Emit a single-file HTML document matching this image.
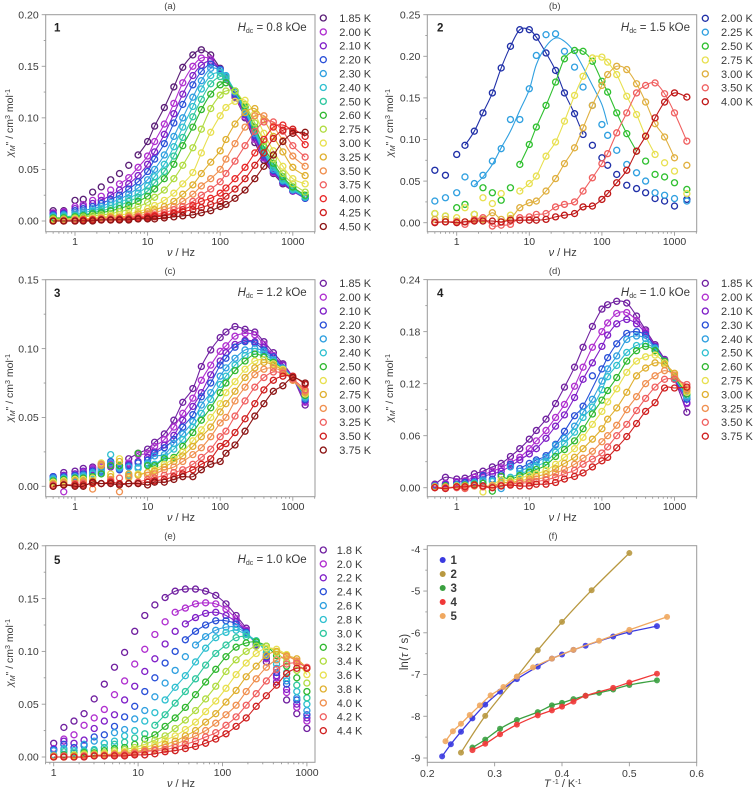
<!DOCTYPE html>
<html lang="en">
<head>
<meta charset="utf-8">
<title>AC susceptibility charts</title>
<style>
html,body{margin:0;padding:0;background:#fff;}
svg{display:block;font-family:"Liberation Sans",sans-serif;fill:#3a3a3a;font-size:10.5px;}
.t{font-size:9.5px;fill:#444;}
.sub{font-size:7px;}
.b{font-weight:bold;font-size:11.5px;fill:#222;}
.f{font-size:11.5px;}
.a{font-size:11px;}
</style>
</head>
<body>
<svg id="chart" xmlns="http://www.w3.org/2000/svg" width="755" height="791" viewBox="0 0 755 791">
<g>
<text class="t" x="170" y="9" text-anchor="middle">(a)</text>
<text class="t" x="554.7" y="9" text-anchor="middle">(b)</text>
<text class="t" x="170" y="274" text-anchor="middle">(c)</text>
<text class="t" x="554.7" y="274" text-anchor="middle">(d)</text>
<text class="t" x="170" y="539" text-anchor="middle">(e)</text>
<text class="t" x="553" y="539" text-anchor="middle">(f)</text>
</g>
<g>
<text class="b" x="54" y="31.5">1</text>
<text class="b" x="437" y="31.5">2</text>
<text class="b" x="54" y="297">3</text>
<text class="b" x="437" y="297">4</text>
<text class="b" x="54" y="564">5</text>
</g>
<g>
<text class="f" x="306.7" y="31" text-anchor="end"><tspan font-style="italic">H</tspan><tspan class="sub" dy="2">dc</tspan><tspan dy="-2"> = 0.8 kOe</tspan></text>
<text class="f" x="690" y="31" text-anchor="end"><tspan font-style="italic">H</tspan><tspan class="sub" dy="2">dc</tspan><tspan dy="-2"> = 1.5 kOe</tspan></text>
<text class="f" x="306.7" y="296" text-anchor="end"><tspan font-style="italic">H</tspan><tspan class="sub" dy="2">dc</tspan><tspan dy="-2"> = 1.2 kOe</tspan></text>
<text class="f" x="690" y="296" text-anchor="end"><tspan font-style="italic">H</tspan><tspan class="sub" dy="2">dc</tspan><tspan dy="-2"> = 1.0 kOe</tspan></text>
<text class="f" x="306.7" y="563" text-anchor="end"><tspan font-style="italic">H</tspan><tspan class="sub" dy="2">dc</tspan><tspan dy="-2"> = 1.0 kOe</tspan></text>
</g>
<g>
<text transform="translate(13,123) rotate(-90)" text-anchor="middle"><tspan font-style="italic">χ</tspan><tspan class="sub" font-style="italic" dy="2">M</tspan><tspan dy="-2">" / cm</tspan><tspan class="sub" dy="-3">3</tspan><tspan dy="3"> mol</tspan><tspan class="sub" dy="-3">-1</tspan></text>
<text transform="translate(393,123) rotate(-90)" text-anchor="middle"><tspan font-style="italic">χ</tspan><tspan class="sub" font-style="italic" dy="2">M</tspan><tspan dy="-2">" / cm</tspan><tspan class="sub" dy="-3">3</tspan><tspan dy="3"> mol</tspan><tspan class="sub" dy="-3">-1</tspan></text>
<text transform="translate(13,388) rotate(-90)" text-anchor="middle"><tspan font-style="italic">χ</tspan><tspan class="sub" font-style="italic" dy="2">M</tspan><tspan dy="-2">" / cm</tspan><tspan class="sub" dy="-3">3</tspan><tspan dy="3"> mol</tspan><tspan class="sub" dy="-3">-1</tspan></text>
<text transform="translate(393,388) rotate(-90)" text-anchor="middle"><tspan font-style="italic">χ</tspan><tspan class="sub" font-style="italic" dy="2">M</tspan><tspan dy="-2">" / cm</tspan><tspan class="sub" dy="-3">3</tspan><tspan dy="3"> mol</tspan><tspan class="sub" dy="-3">-1</tspan></text>
<text transform="translate(13,653) rotate(-90)" text-anchor="middle"><tspan font-style="italic">χ</tspan><tspan class="sub" font-style="italic" dy="2">M</tspan><tspan dy="-2">" / cm</tspan><tspan class="sub" dy="-3">3</tspan><tspan dy="3"> mol</tspan><tspan class="sub" dy="-3">-1</tspan></text>
<text class="f" transform="translate(408,652) rotate(-90)" text-anchor="middle">ln(<tspan font-style="italic">τ</tspan> / s)</text>
</g>
<g>
<text class="a" x="181" y="256" text-anchor="middle"><tspan font-style="italic">ν</tspan> / Hz</text>
<text class="a" x="562.7" y="256" text-anchor="middle"><tspan font-style="italic">ν</tspan> / Hz</text>
<text class="a" x="181" y="521" text-anchor="middle"><tspan font-style="italic">ν</tspan> / Hz</text>
<text class="a" x="562.7" y="521" text-anchor="middle"><tspan font-style="italic">ν</tspan> / Hz</text>
<text class="a" x="181" y="787" text-anchor="middle"><tspan font-style="italic">ν</tspan> / Hz</text>
<text class="a" x="562.7" y="787" text-anchor="middle"><tspan font-style="italic">T</tspan><tspan class="sub" dy="-3"> -1</tspan><tspan dy="3"> / K</tspan><tspan class="sub" dy="-3">-1</tspan></text>
</g>
</svg>
<script>
const freqHz = [0.5,0.7,1,1.3,1.75,2.3,3.1,4.1,5.5,7.4,10,12.5,17,23,30.5,42,55,74,100,120,160,220,300,400,540,730,1000,1480];
const freqHzE = [1,1.32,1.74,2.29,3.02,3.98,5.25,6.92,9.12,12,15.8,20.9,27.5,36.3,47.9,63.1,83.2,110,145,191,251,331,437,575,759,1000];

const tempsA = ['1.85 K','2.00 K','2.10 K','2.20 K','2.30 K','2.40 K','2.50 K','2.60 K','2.75 K','3.00 K','3.25 K','3.50 K','3.75 K','4.00 K','4.25 K','4.50 K'];
const tempsB = ['2.00 K','2.25 K','2.50 K','2.75 K','3.00 K','3.50 K','4.00 K'];
const tempsC = ['1.85 K','2.00 K','2.10 K','2.20 K','2.30 K','2.40 K','2.50 K','2.60 K','2.75 K','3.00 K','3.25 K','3.50 K','3.75 K'];
const tempsD = ['1.85 K','2.00 K','2.10 K','2.30 K','2.40 K','2.50 K','2.60 K','2.75 K','3.00 K','3.25 K','3.50 K','3.75 K'];
const tempsE = ['1.8 K','2.0 K','2.2 K','2.4 K','2.6 K','2.8 K','3.0 K','3.2 K','3.4 K','3.6 K','3.8 K','4.0 K','4.2 K','4.4 K'];

const chiA = [
[.010,.010,.020,.021,.028,.033,.040,.046,.054,.064,.077,.092,.110,.130,.149,.161,.166,.161,.148,.138,.120,.100,.076,.059,.046,.036,.029,.022],
[.008,.009,.014,.016,.020,.024,.030,.036,.042,.052,.063,.077,.094,.114,.134,.150,.158,.157,.147,.138,.121,.101,.079,.061,.047,.037,.029,.022],
[.007,.008,.012,.014,.017,.020,.025,.030,.036,.044,.055,.067,.084,.104,.123,.141,.151,.155,.147,.139,.122,.103,.081,.062,.048,.037,.029,.022],
[.006,.007,.010,.012,.014,.017,.021,.025,.031,.038,.048,.060,.075,.095,.113,.132,.145,.152,.147,.140,.123,.104,.083,.064,.049,.038,.030,.022],
[.005,.006,.008,.010,.012,.014,.018,.021,.026,.032,.040,.050,.064,.082,.100,.120,.136,.148,.146,.141,.125,.106,.085,.066,.050,.039,.030,.023],
[.004,.005,.006,.008,.010,.012,.015,.018,.022,.027,.034,.043,.055,.072,.091,.111,.128,.141,.144,.140,.126,.108,.087,.067,.052,.040,.031,.023],
[.003,.004,.005,.006,.008,.010,.012,.015,.019,.023,.029,.037,.048,.063,.081,.101,.118,.133,.140,.138,.126,.110,.089,.069,.054,.041,.032,.024],
[.003,.003,.004,.005,.007,.008,.010,.012,.015,.019,.024,.031,.041,.055,.073,.091,.108,.123,.132,.134,.126,.111,.091,.072,.056,.043,.033,.025],
[.002,.002,.003,.004,.005,.006,.007,.009,.011,.014,.018,.023,.030,.041,.054,.071,.089,.109,.122,.126,.126,.113,.095,.077,.060,.046,.036,.028],
[.001,.001,.002,.002,.003,.004,.005,.006,.007,.009,.012,.015,.020,.027,.036,.047,.066,.086,.102,.110,.116,.117,.104,.085,.068,.053,.041,.036],
[.001,.001,.001,.002,.002,.003,.004,.004,.005,.007,.009,.011,.014,.019,.026,.035,.046,.057,.068,.079,.094,.105,.109,.098,.082,.067,.052,.044],
[.000,.001,.001,.001,.002,.002,.003,.003,.004,.005,.007,.008,.011,.014,.019,.026,.034,.041,.050,.060,.075,.091,.102,.102,.092,.078,.063,.053],
[.000,.000,.001,.001,.001,.002,.002,.002,.003,.004,.005,.006,.008,.011,.014,.019,.025,.031,.038,.046,.058,.073,.087,.096,.096,.087,.073,.062],
[.000,.000,.000,.001,.001,.001,.001,.002,.002,.003,.004,.005,.006,.008,.011,.015,.019,.022,.027,.032,.041,.052,.066,.079,.091,.093,.087,.074],
[.000,.000,.000,.000,.001,.001,.001,.001,.002,.002,.003,.004,.005,.007,.009,.011,.013,.016,.019,.024,.031,.041,.054,.066,.080,.088,.089,.082],
[.000,.000,.000,.000,.000,.001,.001,.001,.001,.002,.002,.002,.003,.004,.005,.006,.008,.010,.014,.016,.022,.030,.041,.053,.064,.077,.085,.086]
];
const chiB = [
[.063,.057,.082,.093,.110,.132,.156,.186,.212,.232,.232,.223,.204,.183,.156,.131,.106,.093,.078,.069,.058,.045,.041,.036,.029,.026,.020,.028],
[.026,.030,.036,.055,.047,.057,.074,.089,.124,.124,.161,.201,.226,.227,.206,.187,.163,.141,.118,.105,.087,.070,.060,.050,.036,.033,.029,.026],
[.011,.008,.018,.022,.010,.042,.036,.027,.042,.070,.094,.115,.141,.169,.197,.207,.206,.194,.170,.157,.132,.107,.086,.074,.058,.055,.048,.040],
[.011,.008,.006,.018,.010,.030,.023,.035,.009,.038,.047,.056,.080,.097,.122,.153,.176,.198,.199,.193,.178,.152,.130,.104,.082,.072,.062,.035],
[.004,.004,.002,.001,.004,.004,.012,.004,.005,.018,.024,.026,.038,.053,.071,.090,.114,.141,.165,.178,.188,.184,.167,.145,.119,.103,.078,.069],
[.001,.001,.001,-.002,.003,.006,-.004,-.003,-.002,.006,.007,.010,.011,.019,.022,.025,.038,.054,.071,.083,.108,.132,.156,.165,.168,.155,.132,.098],
[.000,.001,.000,.001,.002,.002,.002,.001,.003,.003,.003,.003,.004,.007,.009,.011,.019,.020,.028,.035,.048,.063,.086,.104,.126,.145,.156,.151]
];
const fit225 = [.045,.055,.070,.090,.110,.135,.160,.190,.212,.222,.218,.205,.187,.165,.142,.118];
const chiC = [
[.007,.010,.011,.013,.014,.016,.017,.013,.020,.024,.027,.032,.038,.048,.061,.071,.087,.099,.108,.112,.116,.114,.112,.105,.097,.089,.079,.059],
[.006,-.004,.009,.010,.013,.014,.016,.015,.017,.023,.024,.029,.034,.043,.053,.064,.077,.088,.098,.102,.109,.111,.110,.103,.095,.088,.079,.061],
[.007,.008,.009,.011,.012,.013,.014,.012,.016,.018,.021,.025,.030,.037,.048,.058,.068,.081,.091,.097,.103,.106,.105,.101,.094,.088,.079,.062],
[.007,.007,.008,.009,.011,.011,.018,.012,.015,.017,.019,.024,.028,.034,.043,.052,.065,.075,.088,.093,.101,.105,.104,.099,.094,.086,.079,.063],
[.006,.006,.007,.008,.010,.010,.017,.013,.014,.014,.017,.022,.023,.031,.038,.047,.059,.068,.080,.086,.093,.099,.100,.098,.092,.086,.079,.064],
[.005,.006,.006,.007,.009,.012,.023,.014,.008,.013,.016,.016,.021,.027,.034,.043,.053,.063,.074,.080,.088,.095,.098,.096,.091,.085,.078,.065],
[.004,.005,.006,.006,.007,.009,.015,.015,.007,.024,.015,.015,.020,.021,.029,.039,.048,.057,.068,.075,.084,.091,.096,.094,.090,.085,.078,.066],
[.003,.004,.005,.005,.006,.017,.009,.020,.006,.009,.010,.012,.016,.020,.025,.033,.041,.050,.060,.068,.076,.085,.091,.092,.089,.085,.078,.067],
[.002,.003,.004,.004,.004,.015,.007,.018,.009,.008,.010,.011,.014,.018,.022,.029,.036,.043,.054,.060,.069,.079,.086,.090,.088,.084,.077,.068],
[.001,.002,.002,.003,-.002,.016,.005,-.004,.007,.003,.008,.009,.012,.014,.018,.023,.028,.036,.046,.050,.062,.072,.081,.085,.086,.083,.077,.069],
[.001,.001,.002,.002,.003,.002,.004,.006,.002,.003,.005,.006,.008,.010,.012,.016,.021,.027,.036,.040,.051,.062,.072,.079,.083,.082,.078,.070],
[.000,.001,.001,.001,.002,.002,.003,.002,.002,.002,.003,.004,.005,.007,.009,.012,.016,.020,.029,.031,.039,.049,.060,.070,.077,.080,.080,.074],
[.000,.001,.000,.000,.003,.002,.002,.001,.002,.002,.001,.003,.003,.005,.007,.007,.012,.016,.018,.024,.030,.040,.051,.060,.069,.073,.079,.075]
];
const chiD = [
[.004,.012,.010,.011,.016,.019,.024,.028,.036,.045,.056,.066,.079,.097,.116,.139,.162,.186,.206,.211,.215,.213,.198,.182,.165,.148,.125,.087],
[.003,.005,.007,.008,.012,.015,.019,.023,.029,.035,.045,.054,.066,.081,.096,.117,.139,.162,.180,.190,.201,.202,.193,.180,.163,.147,.125,.097],
[.003,.004,.006,.007,.009,.013,.016,.019,.025,.032,.039,.045,.057,.071,.084,.104,.125,.144,.163,.176,.189,.194,.189,.178,.163,.147,.125,.098],
[.002,.003,.004,.006,.007,.014,.010,.015,.027,.022,.028,.032,.037,.050,.065,.083,.094,.129,.137,.150,.166,.178,.180,.176,.162,.146,.126,.102],
[.002,.002,.003,.004,.006,.009,.008,-.001,.024,.019,.024,.030,.035,.049,.057,.071,.087,.102,.123,.137,.152,.171,.175,.172,.161,.146,.127,.104],
[.001,.002,.003,.003,.005,.007,.007,.005,.012,.016,.020,.025,.030,.041,.051,.064,.081,.093,.113,.128,.141,.156,.164,.166,.160,.146,.127,.106],
[.001,.002,.002,.003,.004,.005,-.004,.013,.010,.014,.018,.021,.026,.036,.044,.054,.068,.085,.101,.112,.127,.146,.158,.163,.158,.146,.128,.108],
[.001,.001,.002,.002,.003,-.005,.003,.009,.008,.011,.014,.016,.020,.027,.035,.045,.058,.073,.088,.099,.114,.133,.146,.151,.153,.144,.130,.110],
[.001,.001,.001,.002,.002,.002,.002,.006,.006,.008,.010,.013,.016,.022,.028,.035,.045,.056,.068,.079,.092,.110,.129,.138,.144,.142,.132,.112],
[.000,.000,.001,.000,.002,.001,.002,.003,.005,.006,.008,.010,.012,.017,.021,.027,.034,.042,.053,.060,.072,.090,.105,.120,.129,.135,.130,.114],
[.000,.000,.000,-.001,.003,.001,.000,.002,.004,.005,.006,.007,.009,.012,.016,.020,.027,.033,.040,.047,.060,.073,.089,.103,.116,.125,.125,.119],
[.000,-.001,.001,.001,.003,.002,.000,.002,.003,.002,.002,.004,.004,.006,.010,.013,.017,.024,.031,.035,.046,.059,.074,.088,.098,.115,.115,.116]
];
const chiE = [
[.013,.028,.034,.041,.055,.069,.085,.099,.119,.134,.144,.151,.157,.159,.159,.157,.153,.145,.134,.122,.105,.090,.071,.054,.041,.027],
[.008,.017,.021,.030,.037,.045,.059,.072,.088,.102,.116,.128,.137,.141,.145,.146,.145,.140,.131,.120,.106,.093,.075,.061,.047,.034],
[.007,.015,.013,.016,.027,.034,.040,.054,.067,.081,.093,.107,.119,.126,.132,.136,.137,.134,.128,.119,.106,.094,.077,.064,.050,.037],
[.007,.012,.009,.011,.019,.021,.029,.038,.048,.062,.075,.089,.100,.111,.119,.125,.129,.129,.126,.118,.107,.095,.080,.069,.054,.040],
[.006,.008,.006,.012,.015,.013,.023,.026,.036,.044,.057,.070,.082,.095,.106,.114,.120,.123,.123,.117,.109,.097,.084,.072,.056,.044],
[.002,.007,.006,.006,.007,.013,.015,.020,.025,.034,.042,.054,.066,.077,.090,.103,.113,.118,.120,.116,.110,.099,.088,.075,.062,.050],
[.001,.005,.004,.005,.006,.009,.012,.014,.018,.022,.030,.040,.051,.062,.074,.087,.098,.106,.113,.114,.110,.102,.092,.080,.068,.056],
[.001,.002,.002,.004,.004,.006,.008,.009,.012,.017,.021,.029,.037,.047,.059,.071,.083,.095,.104,.108,.109,.105,.096,.086,.075,.062],
[.001,.001,.002,.003,.003,.004,.006,.007,.009,.012,.016,.020,.027,.035,.044,.055,.067,.081,.092,.100,.105,.105,.099,.090,.082,.070],
[.000,.000,.001,.002,.002,.003,.004,.005,.007,.009,.012,.016,.020,.026,.033,.043,.053,.065,.078,.089,.098,.103,.102,.097,.090,.078],
[.000,.000,.001,.001,.002,.002,.003,.004,.005,.007,.009,.012,.015,.020,.025,.033,.041,.052,.063,.076,.086,.096,.100,.096,.093,.084],
[.001,.000,.000,.001,.002,.002,.002,.003,.004,.006,.007,.009,.012,.016,.020,.025,.032,.040,.049,.062,.074,.085,.092,.095,.091,.084],
[.000,.001,.000,.001,.001,.001,.002,.002,.003,.005,.006,.007,.009,.012,.015,.019,.023,.030,.038,.049,.060,.072,.083,.088,.089,.085],
[.000,.000,.000,.000,.001,.001,.001,.001,.002,.002,.003,.005,.006,.008,.010,.013,.017,.022,.029,.037,.048,.058,.068,.079,.084,.084]
];

const fitFromA = [9,7,5,4,3,2,1,0,0,0,0,0,0,0,0,0];
const fitToA = [27,27,27,27,27,27,27,27,27,27,27,27,27,27,27,27];
const fitFromB = [3,4,9,9,3,0,0];
const fitToB = [16,19,22,24,26,27,27];
const fitFromC = [8,9,10,10,10,10,10,9,9,10,8,0,0];
const fitToC = [27,27,27,27,27,27,27,27,27,27,27,27,27];
const fitFromD = [0,2,3,9,9,8,7,6,2,0,0,0];
const fitToD = [27,27,27,27,27,27,27,27,27,27,27,27];
const fitFromE = [11,12,13,13,14,11,10,9,7,6,5,4,3,0];
const fitToE = [19,19,20,20,20,21,21,22,23,25,25,25,25,25];
const fitOutliersD = [[],[],[],[17],[],[],[],[],[],[],[],[]];

const tauNames = ['1','2','3','4','5'];
const invT1 = [.222,.235,.25,.267,.286,.308,.333,.364,.385,.4,.417,.435,.476,.5,.541];
const lnTau1 = [-8.96,-8.67,-8.37,-8.05,-7.72,-7.41,-7.11,-6.81,-6.62,-6.52,-6.41,-6.31,-6.09,-5.98,-5.84];
const invT2 = [.25,.286,.333,.364,.4,.444,.5];
const lnTau2 = [-8.87,-7.99,-7.05,-6.42,-5.74,-4.98,-4.09];
const invT3 = [.267,.286,.308,.333,.364,.385,.4,.417,.435,.455,.476,.5,.541];
const lnTau3 = [-8.75,-8.56,-8.30,-8.09,-7.90,-7.74,-7.68,-7.59,-7.51,-7.44,-7.36,-7.25,-7.14];
const invT4 = [.267,.286,.308,.333,.364,.385,.4,.417,.435,.476,.5,.541];
const lnTau4 = [-8.81,-8.66,-8.43,-8.20,-7.98,-7.86,-7.77,-7.65,-7.51,-7.32,-7.19,-6.98];
const invT5 = [.227,.238,.25,.263,.278,.294,.313,.333,.357,.385,.417,.455,.5,.556];
const lnTau5 = [-8.60,-8.36,-8.18,-7.97,-7.74,-7.50,-7.30,-7.05,-6.83,-6.62,-6.41,-6.19,-5.93,-5.62];

const ticksY02 = ['0.00','0.05','0.10','0.15','0.20'];
const ticksY025 = ['0.00','0.05','0.10','0.15','0.20','0.25'];
const ticksY015 = ['0.00','0.05','0.10','0.15'];
const ticksY024 = ['0.00','0.06','0.12','0.18','0.24'];
const ticksLogX = ['1','10','100','1000'];
const ticksTauX = ['0.2','0.3','0.4','0.5','0.6'];
const ticksTauY = ['-4','-5','-6','-7','-8','-9'];

const colorsA = ['#5b1f78','#b030d0','#8020c8','#2a50d8','#30a0e0','#30c0d0','#30c8a0','#30b830','#b0dc40','#e8e050','#e0b030','#f09050','#f06060','#e82828','#d02020','#8c1414'];
const colorsB = ['#2030a8','#30a0e0','#30c030','#e8e050','#e0b040','#f06060','#c01818'];
const colorsC = ['#7020a0','#b030d0','#8020c8','#2a50d8','#30a0e0','#30c0d0','#30b830','#e8e050','#e0b030','#f09050','#f06060','#d02020','#8c1414'];
const colorsD = ['#7020a0','#b030d0','#8020c8','#2a50d8','#30a0e0','#30c0d0','#30b830','#e8e050','#e0b030','#f09050','#f06060','#d02020'];
const colorsE = ['#7020a0','#b030d0','#8020c8','#2a50d8','#30a0e0','#30c0d0','#30c8a0','#30b830','#b0dc40','#e8e050','#e0b030','#f09050','#f06060','#d02020'];
const colorsF = ['#3a3ae0','#b89840','#3aa040','#f03838','#f0a860'];

const NS = 'http://www.w3.org/2000/svg';
const root = document.getElementById('chart');

function make(tag, parent, attrs) {
  const el = document.createElementNS(NS, tag);
  for (const k in attrs) el.setAttribute(k, attrs[k]);
  parent.appendChild(el);
  return el;
}

function smoothPath(pts) {
  if (!pts.length) return '';
  let d = 'M' + pts[0][0].toFixed(2) + ' ' + pts[0][1].toFixed(2);
  for (let i = 0; i < pts.length - 1; i++) {
    const p0 = pts[Math.max(i - 1, 0)], p1 = pts[i], p2 = pts[i + 1], p3 = pts[Math.min(i + 2, pts.length - 1)];
    const c1x = p1[0] + (p2[0] - p0[0]) / 6, c1y = p1[1] + (p2[1] - p0[1]) / 6;
    const c2x = p2[0] - (p3[0] - p1[0]) / 6, c2y = p2[1] - (p3[1] - p1[1]) / 6;
    d += 'C' + c1x.toFixed(2) + ' ' + c1y.toFixed(2) + ' ' + c2x.toFixed(2) + ' ' + c2y.toFixed(2) + ' ' + p2[0].toFixed(2) + ' ' + p2[1].toFixed(2);
  }
  return d;
}

function drawFrame(g, box) {
  const r = make('rect', g, {x: box.l, y: box.t, width: box.r - box.l, height: box.b - box.t, fill: 'none', stroke: '#9a9a9a', 'stroke-width': 1});
  
  
}

function tick(g, x1, y1, x2, y2) {
  const t = make('line', g, {x1: x1, y1: y1, x2: x2, y2: y2, stroke: '#9a9a9a', 'stroke-width': 0.9});
  
  
}

function label(g, x, y, text, anchor) {
  const t = make('text', g, {x: x, y: y, 'text-anchor': anchor});
  t.textContent = text;
  
  
}

function drawYAxis(g, box, yScale, labels, minorSub) {
  const vals = labels.map(Number);
  vals.forEach(function (v, i) {
    const y = yScale(v);
    tick(g, box.l - 4, y, box.l, y);
    label(g, box.l - 7, y + 3.7, labels[i], 'end');
    if (i < vals.length - 1) {
      const ym = yScale((v + vals[i + 1]) * minorSub);
      tick(g, box.l - 2, ym, box.l, ym);
    }
  });
}

function drawLogX(g, box, xScale, labels, minF, maxF) {
  for (let e = -1; e <= 4; e++) {
    for (let m = 1; m < 10; m++) {
      const f = m * Math.pow(10, e);
      if (f < minF || f > maxF) continue;
      const x = xScale(f);
      tick(g, x, box.b, x, box.b + (m === 1 ? 4 : 2));
    }
  }
  labels.forEach(function (s) {
    label(g, xScale(Number(s)), box.b + 13.5, s, 'middle');
  });
}

function drawAcPanel(cfg) {
  const g = make('g', root, {});
  
  
  const box = cfg.box;
  const xScale = function (f) { return cfg.x1 + Math.log10(f) * cfg.dec; };
  const yScale = function (v) { return cfg.y0 - v * cfg.ky; };
  drawFrame(g, box);
  drawYAxis(g, box, yScale, cfg.yLabels, 0.5);
  drawLogX(g, box, xScale, ticksLogX, cfg.minF, cfg.maxF);
  cfg.values.forEach(function (row, s) {
    const sg = make('g', g, {});
    
    
    const color = cfg.colors[s];
    const over = cfg.fitOverride && cfg.fitOverride[s];
    const skip = cfg.fitOutliers ? cfg.fitOutliers[s] : [];
    const from = cfg.fitFrom[s], to = cfg.fitTo[s];
    const pts = [];
    for (let i = from; i <= to && i < row.length; i++) {
      if (skip.indexOf(i) >= 0) continue;
      const v = over ? over[i - from] : row[i];
      pts.push([xScale(cfg.freqs[i]), yScale(v)]);
    }
    const line = make('path', sg, {d: smoothPath(pts), fill: 'none', stroke: color, 'stroke-width': 1.1});
    
    
    row.forEach(function (v, i) {
      const c = make('circle', sg, {cx: xScale(cfg.freqs[i]).toFixed(2), cy: yScale(v).toFixed(2), r: 3, fill: 'none', stroke: color, 'stroke-width': 1.35});
      
      
    });
  });
  const lg = make('g', g, {});
  
  
  cfg.temps.forEach(function (t, i) {
    const y = cfg.legY + i * 13.9;
    const c = make('circle', lg, {cx: cfg.legX, cy: y, r: 3, fill: 'none', stroke: cfg.colors[i], 'stroke-width': 1.35});
    
    
    const tx = make('text', lg, {x: cfg.legTextX, y: y + 3.9, 'font-size': 11});
    tx.textContent = t;
    
    
  });
}

const boxA = {l: 45.7, r: 315, t: 14.7, b: 231.7};
const boxB = {l: 427.3, r: 696.7, t: 14.7, b: 231.7};
const boxC = {l: 45.7, r: 315, t: 279.7, b: 496.7};
const boxD = {l: 427.3, r: 696.7, t: 279.7, b: 496.7};
const boxE = {l: 45.7, r: 315, t: 545.7, b: 762.3};
const boxF = {l: 427.3, r: 696.7, t: 545.7, b: 762.3};

drawAcPanel({name: 'panel-a', box: boxA, x1: 75, dec: 72.6, minF: 0.4, maxF: 2000, y0: 221, ky: 1031.5, yLabels: ticksY02, values: chiA, freqs: freqHz, temps: tempsA, colors: colorsA, fitFrom: fitFromA, fitTo: fitToA, legX: 323.3, legTextX: 339.3, legY: 18});
drawAcPanel({name: 'panel-b', box: boxB, x1: 456.7, dec: 72.6, minF: 0.4, maxF: 2000, y0: 222.7, ky: 832, yLabels: ticksY025, values: chiB, freqs: freqHz, temps: tempsB, colors: colorsB, fitFrom: fitFromB, fitTo: fitToB, fitOverride: {1: fit225}, legX: 705.3, legTextX: 721, legY: 18.3});
drawAcPanel({name: 'panel-c', box: boxC, x1: 75, dec: 72.6, minF: 0.4, maxF: 2000, y0: 486.3, ky: 1377, yLabels: ticksY015, values: chiC, freqs: freqHz, temps: tempsC, colors: colorsC, fitFrom: fitFromC, fitTo: fitToC, legX: 323.3, legTextX: 339.3, legY: 283.3});
drawAcPanel({name: 'panel-d', box: boxD, x1: 456.7, dec: 72.6, minF: 0.4, maxF: 2000, y0: 487.7, ky: 867, yLabels: ticksY024, values: chiD, freqs: freqHz, temps: tempsD, colors: colorsD, fitFrom: fitFromD, fitTo: fitToD, fitOutliers: fitOutliersD, legX: 705.3, legTextX: 721, legY: 283.3});
drawAcPanel({name: 'panel-e', box: boxE, x1: 53.7, dec: 84.4, minF: 0.8, maxF: 1200, y0: 757, ky: 1056, yLabels: ticksY02, values: chiE, freqs: freqHzE, temps: tempsE, colors: colorsE, fitFrom: fitFromE, fitTo: fitToE, legX: 323.3, legTextX: 336.7, legY: 550});

(function drawTauPanel() {
  const g = make('g', root, {});
  
  
  const box = boxF;
  const xScale = function (v) { return box.l + (v - 0.2) * 673.5; };
  const yScale = function (v) { return 549.3 + (-4 - v) * 41.74; };
  drawFrame(g, box);
  ticksTauY.forEach(function (s, i) {
    const v = Number(s), y = yScale(v);
    tick(g, box.l - 4, y, box.l, y);
    label(g, box.l - 7, y + 3.7, s, 'end');
    if (i < ticksTauY.length - 1) {
      const ym = yScale(v - 0.5);
      tick(g, box.l - 2, ym, box.l, ym);
    }
  });
  ticksTauX.forEach(function (s) {
    const x = xScale(Number(s));
    tick(g, x, box.b, x, box.b + 4);
    label(g, x, box.b + 14.5, s, 'middle');
  });
  const xs = [invT1, invT2, invT3, invT4, invT5];
  const ys = [lnTau1, lnTau2, lnTau3, lnTau4, lnTau5];
  const order = [1, 0, 2, 3, 4];
  order.forEach(function (s) {
    const sg = make('g', g, {});
    
    
    const pts = xs[s].map(function (v, i) { return [xScale(v), yScale(ys[s][i])]; });
    const line = make('path', sg, {d: smoothPath(pts), fill: 'none', stroke: colorsF[s], 'stroke-width': 1.3});
    
    
    pts.forEach(function (p) {
      const c = make('circle', sg, {cx: p[0].toFixed(2), cy: p[1].toFixed(2), r: 3, fill: colorsF[s], 'fill-opacity': 0.9});
      
      
    });
  });
  const lg = make('g', g, {});
  
  
  tauNames.forEach(function (n, i) {
    const y = 560 + i * 14;
    const c = make('circle', lg, {cx: 442.7, cy: y, r: 3, fill: colorsF[i]});
    
    
    const t = make('text', lg, {x: 450.5, y: y + 4.2, 'font-weight': 'bold', 'font-size': 11.5});
    t.textContent = n;
    
    
  });
})();
</script>
</body>
</html>
